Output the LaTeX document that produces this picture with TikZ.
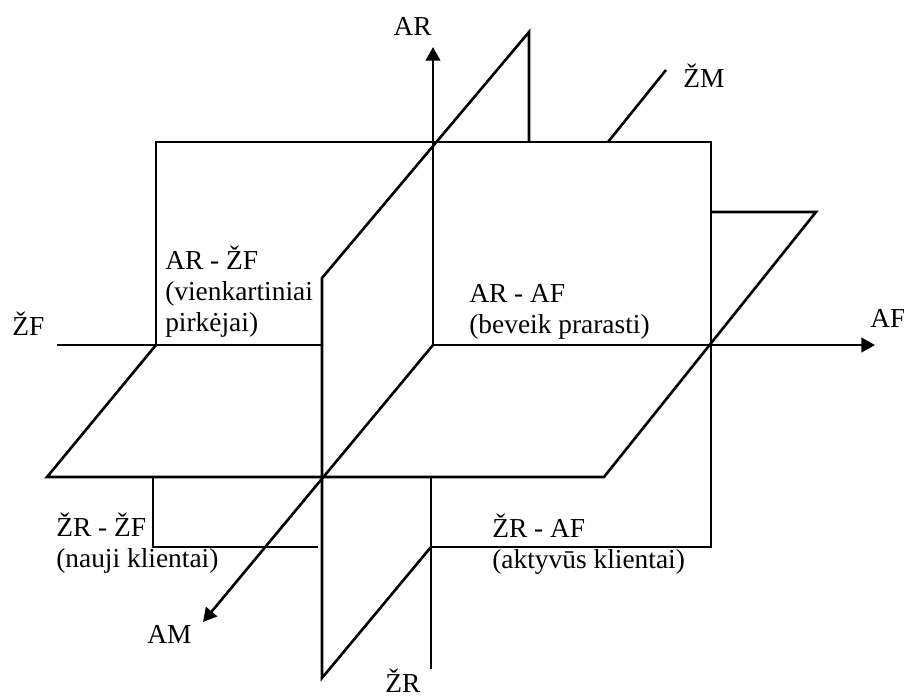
\documentclass[tikz,border=0pt]{standalone}
\usepackage{fontspec}
\setmainfont{Liberation Serif}
\usetikzlibrary{arrows.meta}
\tikzset{
  edge/.style={line width=0.65mm,line join=miter},
  axis/.style={line width=0.65mm,-{Triangle[length=3.4mm,width=3.6mm]}},
  lab/.style={inner sep=0pt,font=\fontsize{19.5}{22}\selectfont},
  quad/.style={lab,align=left,anchor=base west}
}

\begin{document}
\begin{tikzpicture}[x=0.25mm,y=-0.25mm]
  \useasboundingbox (0,0) rectangle (904,697);
  \coordinate (O) at (433,345);
  % back plane (AF - AR)
  \draw[edge] (156,345) -- (156,142) -- (711,142) -- (711,547) -- (431,547);
  \draw[edge] (153,477) -- (153,547) -- (318,547);
  % horizontal plane (AF - AM)
  \draw[edge] (156,345) -- (47,477) -- (604,477) -- (816,212) -- (711,212);
  % vertical plane (AR - AM)
  \draw[edge] (529,142) -- (529,32) -- (322,278) -- (322,678) -- (431,547);
  % axes
  \draw[edge] (57,345) -- (322,345);
  \draw[axis] (O) -- (875,345);
  \draw[axis] (O) -- (433,47);
  \draw[axis] (O) -- (203,622);
  \draw[edge] (431,477) -- (431,669);
  \draw[edge] (608,142) -- (666,70);
  % axis labels
  \node[lab,anchor=base east] (ar) at (432,35) {AR};
  \node[lab,anchor=base west] (zm) at (683,87) {ŽM};
  \node[lab,anchor=base west] (zf) at (12,335) {ŽF};
  \node[lab,anchor=base west] (af) at (870,327) {AF};
  \node[lab,anchor=base west] (am) at (147,643) {AM};
  \node[lab,anchor=base west] (zr) at (385,692) {ŽR};
  % quadrant labels (anchored at the baseline of the last line)
  \node[quad] (arzf) at (165,331) {AR - ŽF\\(vienkartiniai\\pirkėjai)};
  \node[quad] (araf) at (469,333) {AR - AF\\(beveik prarasti)};
  \node[quad] (zrzf) at (56,567) {ŽR - ŽF\\(nauji klientai)};
  \node[quad] (zraf) at (492,568) {ŽR - AF\\(aktyvūs klientai)};
\end{tikzpicture}
\end{document}
